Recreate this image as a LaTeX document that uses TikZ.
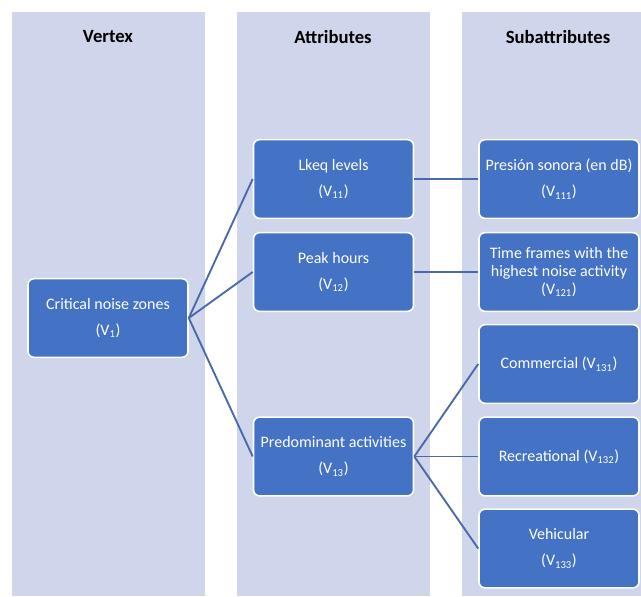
\documentclass[tikz,border=0pt]{standalone}
\usepackage{fontspec}
\setmainfont{Carlito}
\definecolor{colbg}{HTML}{CFD5EA}
\definecolor{boxblue}{HTML}{4472C4}
\definecolor{linkblue}{HTML}{4A69AA}
\begin{document}
\begin{tikzpicture}[x=0.75pt,y=-0.75pt,
    column/.style={fill=colbg,draw=none},
    head/.style={font=\bfseries\fontsize{14}{16}\selectfont},
    box/.style={rectangle,rounded corners=4.5pt,fill=boxblue,draw=white,line width=1.2pt,
        text=white,minimum width=120pt,minimum height=59pt,inner sep=0pt,align=center,
        font=\fontsize{12}{19.5}\selectfont},
    link/.style={draw=linkblue,line width=1.4pt}]
    \useasboundingbox (0,0) rectangle (641,596);
    %draw columns
    \foreach \x/\w in {12/193,237/193,462/179}
        {%
            \fill[column] (\x,12) rectangle ++(\w,584);
        }
    \node[head] (hvertex) at (108,37) {Vertex};
    \node[head] (hattr) at (333,37) {Attributes};
    \node[head] (hsub) at (558,37) {Subattributes};
    %draw boxes
    \node[box] (v1) at (108,318) {Critical noise zones\\(V\textsubscript{1})};
    \node[box] (v11) at (333.5,179) {Lkeq levels\\(V\textsubscript{11})};
    \node[box] (v12) at (333.5,272) {Peak hours\\(V\textsubscript{12})};
    \node[box] (v13) at (333.5,456.5) {Predominant activities\\(V\textsubscript{13})};
    \node[box] (v111) at (559,179) {Presión sonora (en dB)\\(V\textsubscript{111})};
    \node[box,font=\fontsize{12}{13.5}\selectfont] (v121) at (559,272)
        {Time frames with the\\highest noise activity\\(V\textsubscript{121})};
    \node[box] (v131) at (559,364) {Commercial (V\textsubscript{131})};
    \node[box] (v132) at (559,456.5) {Recreational (V\textsubscript{132})};
    \node[box] (v133) at (559,548.5) {Vehicular\\(V\textsubscript{133})};
    %draw links
    \foreach \t in {v11,v12,v13}
        {%
            \draw[link] (v1.east) -- (\t.west);
        }
    \draw[link] (v11.east) -- (v111.west);
    \draw[link] (v12.east) -- (v121.west);
    \foreach \t in {v131,v132,v133}
        {%
            \draw[link] (v13.east) -- (\t.west);
        }
\end{tikzpicture}
\end{document}
